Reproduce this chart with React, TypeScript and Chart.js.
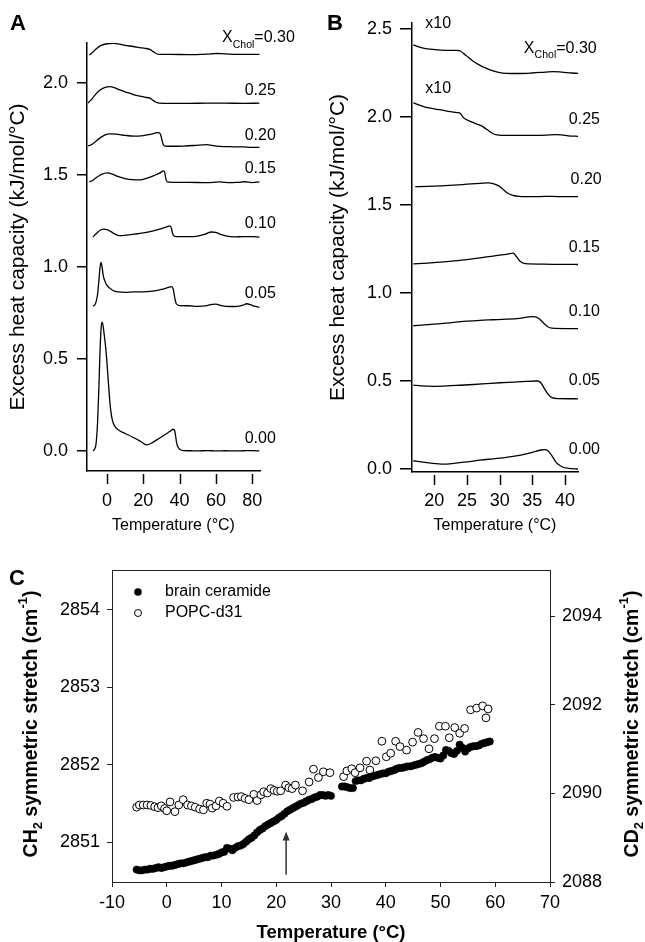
import React, { useEffect, useRef } from "react";
import { Chart, registerables } from "chart.js";
Chart.register(...registerables);

const FONT = "'Liberation Sans', Arial, Helvetica, sans-serif";

// ---------------- Panel A : DSC, full temperature range ----------------
const A_X_TICKS = [0, 20, 40, 60, 80];
const A_Y_TICKS = [0, 0.5, 1.0, 1.5, 2.0];

const A_T_000 = [-7.7, -6.8, -6, -5.2, -4.5, -3.8, -3.2, -2.6, -1.5, -0.5, 0, 0.8, 1.65, 2.6, 3.5, 5, 7, 10, 14, 18, 22, 25, 29, 33, 35, 36.5, 37.3, 38.4, 39.2, 40.2, 42, 46, 50, 55, 60, 65, 70, 75, 80, 84];
const A_CP_000 = [0, 0.01, 0.04, 0.15, 0.33, 0.55, 0.67, 0.7, 0.63, 0.54, 0.48, 0.37, 0.26, 0.185, 0.15, 0.125, 0.11, 0.095, 0.076, 0.055, 0.033, 0.045, 0.07, 0.095, 0.108, 0.118, 0.11, 0.043, 0.02, 0.008, 0.002, 0.001, 0, 0.002, 0, 0.001, 0, 0.001, 0.002, 0];

const A_T_005 = [-7.7, -6.8, -6, -5.2, -4.5, -3.9, -3.3, -2.7, -2, -1, 0, 1.5, 3.3, 6, 10, 15, 20, 25, 30, 33, 35.5, 36.5, 37.3, 38.2, 40, 45, 50, 55, 58, 60, 63, 68, 72, 75, 77, 79, 81, 84];
const A_CP_005 = [0.788, 0.792, 0.81, 0.85, 0.92, 0.99, 1.025, 1.0, 0.95, 0.92, 0.9, 0.885, 0.872, 0.864, 0.862, 0.864, 0.864, 0.868, 0.878, 0.886, 0.893, 0.88, 0.835, 0.8, 0.79, 0.789, 0.786, 0.79, 0.797, 0.798, 0.79, 0.785, 0.786, 0.792, 0.8, 0.795, 0.787, 0.782];

const A_T_010 = [-7.7, -6, -4, -2, 0, 2, 4.5, 7, 10, 15, 20, 25, 30, 33, 34.7, 35.5, 36.2, 37, 40, 45, 50, 54, 57.6, 60, 63, 66, 70, 75, 80, 84];
const A_CP_010 = [1.163, 1.18, 1.198, 1.206, 1.203, 1.193, 1.178, 1.17, 1.172, 1.178, 1.185, 1.195, 1.208, 1.218, 1.223, 1.21, 1.18, 1.168, 1.165, 1.165, 1.168, 1.178, 1.19, 1.188, 1.175, 1.167, 1.163, 1.165, 1.165, 1.162];

const A_T_015 = [-9.7, -8, -6, -3, 0, 3, 6, 10, 14, 18, 22, 26, 29, 31.2, 31.8, 32.4, 33.2, 36, 45, 55, 62, 68, 72, 76, 80, 84];
const A_CP_015 = [1.462, 1.47, 1.485, 1.503, 1.511, 1.505, 1.492, 1.48, 1.474, 1.473, 1.482, 1.497, 1.51, 1.522, 1.515, 1.48, 1.462, 1.46, 1.46, 1.458, 1.462, 1.458, 1.46, 1.463, 1.458, 1.462];

const A_T_020 = [-10.5, -9, -7, -4, -1, 1.7, 5, 10, 15, 20, 24, 27, 28.5, 29.5, 30.3, 31, 32, 36, 42, 48, 55, 58, 62, 70, 75, 80, 84];
const A_CP_020 = [1.658, 1.662, 1.675, 1.7, 1.718, 1.723, 1.722, 1.715, 1.711, 1.714, 1.72, 1.728, 1.73, 1.72, 1.69, 1.665, 1.657, 1.656, 1.657, 1.66, 1.665, 1.66, 1.655, 1.653, 1.652, 1.65, 1.65];

const A_T_025 = [-10.5, -9, -7, -4, -1, 1.7, 4, 7, 10, 14.5, 18, 21, 23.6, 25.5, 27, 29, 35, 45, 55, 65, 75, 84];
const A_CP_025 = [1.891, 1.905, 1.93, 1.96, 1.976, 1.98, 1.975, 1.962, 1.952, 1.937, 1.928, 1.922, 1.917, 1.905, 1.895, 1.89, 1.889, 1.889, 1.89, 1.89, 1.889, 1.89];

const A_T_030 = [-9.7, -8, -6, -3, 0, 3.3, 6, 10, 14.5, 18, 21, 23.6, 25.5, 27, 29, 35, 45, 55, 60, 65, 75, 84];
const A_CP_030 = [2.152, 2.165, 2.185, 2.205, 2.213, 2.215, 2.212, 2.204, 2.198, 2.192, 2.188, 2.182, 2.17, 2.16, 2.155, 2.155, 2.154, 2.157, 2.16, 2.158, 2.155, 2.155];

const A_CURVES = [
  { t: A_T_000, v: A_CP_000 },
  { t: A_T_005, v: A_CP_005 },
  { t: A_T_010, v: A_CP_010 },
  { t: A_T_015, v: A_CP_015 },
  { t: A_T_020, v: A_CP_020 },
  { t: A_T_025, v: A_CP_025 },
  { t: A_T_030, v: A_CP_030 },
];
const A_LABEL_TEXT = ["0.30", "0.25", "0.20", "0.15", "0.10", "0.05", "0.00"];
// label anchors (data units)
const A_LABEL_T = [103.5, 93, 93, 93, 93, 93, 93];
const A_LABEL_V = [2.22, 1.935, 1.69, 1.513, 1.214, 0.83, 0.042];

// ---------------- Panel B : DSC, 17-42 °C ----------------
const B_X_TICKS = [20, 25, 30, 35, 40];
const B_Y_TICKS = [0, 0.5, 1.0, 1.5, 2.0, 2.5];

const B_T_000 = [16.8, 18, 19.5, 21.4, 23, 25, 27, 29, 31, 33, 35, 36.3, 37, 37.5, 38, 38.5, 39, 39.7, 40.5, 42];
const B_CP_000 = [0.047, 0.04, 0.033, 0.028, 0.032, 0.04, 0.05, 0.058, 0.066, 0.078, 0.095, 0.108, 0.11, 0.1, 0.075, 0.045, 0.025, 0.01, 0.004, 0.0];

const B_T_005 = [16.8, 18, 20, 22, 24, 26, 28, 30, 32, 34, 35.8, 36.3, 36.8, 37.4, 38, 39, 42];
const B_CP_005 = [0.477, 0.472, 0.47, 0.472, 0.476, 0.48, 0.485, 0.49, 0.494, 0.498, 0.5, 0.49, 0.46, 0.425, 0.405, 0.4, 0.399];

const B_T_010 = [16.8, 19, 21, 23, 25, 27, 29, 31, 33, 34.5, 35.3, 36, 36.7, 37.3, 38, 40, 42];
const B_CP_010 = [0.814, 0.82, 0.826, 0.833, 0.84, 0.845, 0.848, 0.851, 0.856, 0.864, 0.866, 0.855, 0.83, 0.81, 0.8, 0.798, 0.798];

const B_T_015 = [16.8, 19, 21, 23, 25, 27, 29, 31, 32.1, 32.5, 33, 33.6, 34.5, 36, 38, 40, 42];
const B_CP_015 = [1.165, 1.17, 1.175, 1.182, 1.19, 1.2, 1.21, 1.22, 1.226, 1.21, 1.185, 1.17, 1.165, 1.164, 1.163, 1.163, 1.162];

const B_T_020 = [17.1, 19, 21, 23, 25, 27, 28.3, 29, 29.8, 30.5, 31.2, 32, 33, 35, 37, 39, 42];
const B_CP_020 = [1.604, 1.606, 1.609, 1.613, 1.618, 1.623, 1.626, 1.622, 1.61, 1.59, 1.568, 1.555, 1.549, 1.547, 1.549, 1.548, 1.548];

const B_T_025 = [16.8, 17.5, 18.5, 19.4, 21, 22.5, 23.5, 24, 24.5, 25.5, 26.5, 27.3, 28, 29, 29.6, 31, 33, 35, 37, 38.5, 39.5, 40.5, 42];
const B_CP_025 = [2.081, 2.07, 2.058, 2.05, 2.04, 2.03, 2.025, 2.02, 1.995, 1.975, 1.96, 1.948, 1.93, 1.905, 1.898, 1.895, 1.896, 1.895, 1.897, 1.9, 1.898, 1.893, 1.89];

const B_T_030 = [16.8, 17.5, 18.5, 19.4, 21, 22.5, 23.5, 24, 24.5, 25.2, 26, 27, 28, 29, 30, 31, 33, 35, 37, 38.2, 39.5, 41, 42];
const B_CP_030 = [2.41, 2.4, 2.39, 2.385, 2.38, 2.378, 2.378, 2.375, 2.36, 2.34, 2.315, 2.293, 2.276, 2.262, 2.252, 2.248, 2.247, 2.25, 2.255, 2.258, 2.255, 2.25, 2.248];

const B_CURVES = [
  { t: B_T_000, v: B_CP_000 },
  { t: B_T_005, v: B_CP_005 },
  { t: B_T_010, v: B_CP_010 },
  { t: B_T_015, v: B_CP_015 },
  { t: B_T_020, v: B_CP_020 },
  { t: B_T_025, v: B_CP_025 },
  { t: B_T_030, v: B_CP_030 },
];
const B_LABEL_TEXT = ["0.30", "0.25", "0.20", "0.15", "0.10", "0.05", "0.00"];
const B_LABEL_T = [44.84, 45.34, 45.6, 45.34, 45.34, 45.34, 45.34];
const B_LABEL_V = [2.362, 1.96, 1.618, 1.235, 0.869, 0.477, 0.085];
const B_SCALE_TEXT = "x10";
const B_SCALE_T = [18.63, 18.63];
const B_SCALE_V = [2.504, 2.135];

// ---------------- Panel C : FTIR ----------------
const C_X_TICKS = [-10, 0, 10, 20, 30, 40, 50, 60, 70];
const C_Y_TICKS = [2851, 2852, 2853, 2854];
const C_Y2_TICKS = [2088, 2090, 2092, 2094];

const CER_TEMP = [
  -5.5, -5, -4.5, -4, -3.5, -3, -2.5, -2, -1.5, -1, -0.5, 0, 0.5, 1, 1.5, 2, 2.5, 3, 3.5, 4, 4.5, 5, 5.5, 6, 6.5, 7, 7.5, 8, 8.5, 9, 9.5, 10, 10.5, 11, 11.5, 12, 12.5, 13, 13.5, 14, 14.5, 15, 15.5, 16, 16.5, 17, 17.5, 18, 18.5, 19, 19.5, 20, 20.5, 21, 21.5, 22, 22.5, 23, 23.5, 24, 24.5, 25, 25.5, 26, 26.5, 27, 27.5, 28, 28.5, 29, 29.5, 30,
  32, 32.5, 33, 33.5, 34, 34.5, 35, 35.5, 36, 36.5, 37, 37.5, 38, 38.5, 39, 39.5, 40, 40.5, 41, 41.5, 42, 42.5, 43, 43.5, 44, 44.5, 45, 45.5, 46, 46.5, 47, 47.5, 48, 48.5, 49, 49.5, 50, 50.5, 51, 51.5, 52, 52.5, 53, 53.5, 54, 54.5, 55, 55.5, 56, 56.5, 57, 57.5, 58, 58.5, 59,
];
const CER_CH2 = [
  2850.65, 2850.64, 2850.64, 2850.65, 2850.65, 2850.66, 2850.66, 2850.67, 2850.68, 2850.67,
  2850.68, 2850.69, 2850.7, 2850.7, 2850.71, 2850.72, 2850.73, 2850.73, 2850.74, 2850.75,
  2850.76, 2850.77, 2850.78, 2850.79, 2850.8, 2850.81, 2850.81, 2850.83, 2850.83, 2850.84,
  2850.85, 2850.87, 2850.88, 2850.93, 2850.92, 2850.9, 2850.93, 2850.95, 2850.96, 2850.98,
  2851.01, 2851.04, 2851.06, 2851.09, 2851.13, 2851.16, 2851.18, 2851.21, 2851.23, 2851.25,
  2851.27, 2851.29, 2851.32, 2851.34, 2851.37, 2851.4, 2851.42, 2851.44, 2851.46, 2851.48,
  2851.5, 2851.51, 2851.53, 2851.55, 2851.56, 2851.58, 2851.59, 2851.61, 2851.61, 2851.6,
  2851.61, 2851.6,
  2851.72, 2851.72, 2851.71, 2851.7, 2851.7, 2851.79, 2851.8, 2851.8, 2851.82, 2851.83,
  2851.83, 2851.85, 2851.86, 2851.87, 2851.88, 2851.89, 2851.89, 2851.91, 2851.92, 2851.93,
  2851.95, 2851.96, 2851.96, 2851.97, 2851.98, 2851.98, 2851.99, 2852.0, 2852.01, 2852.02,
  2852.04, 2852.06, 2852.07, 2852.09, 2852.1, 2852.09, 2852.08, 2852.12, 2852.19, 2852.18,
  2852.15, 2852.14, 2852.18, 2852.26, 2852.22, 2852.17, 2852.21, 2852.23, 2852.24, 2852.24,
  2852.25, 2852.27, 2852.28, 2852.29, 2852.3,
];

const POPC_TEMP = [
  -5.5, -5, -4.3, -3.6, -2.9, -2.2, -1.6, -1, -0.4, 0, 0.6, 1.5, 2.2, 3, 3.8, 4.5, 5.2, 6, 6.7, 7.3, 7.9, 8.3, 9, 9.6, 10.3, 11, 12.2, 13, 13.6, 14.3, 15, 15.9, 16.5, 17.2, 17.7, 18.4, 19, 19.6, 20.2, 20.8, 21.7, 22.3, 22.9, 23.5, 24.8, 26, 26.8, 27.7, 28.6, 29.8,
  32.3, 32.9, 33.8, 34.4, 35.3, 36.5, 37.1, 38.2, 39.3, 40.1, 40.9, 41.8, 42.6, 43.8, 44.9, 45.9, 46.9, 47.9, 48.9, 49.8, 50.9, 51.6, 52.6, 53.5, 54.4, 55.5, 56.6, 57.7, 58.3, 58.7,
];
const POPC_CD2 = [
  2089.69, 2089.74, 2089.74, 2089.74, 2089.73, 2089.7, 2089.68, 2089.72, 2089.66, 2089.61,
  2089.81, 2089.59, 2089.74, 2089.86, 2089.74, 2089.72, 2089.69, 2089.65, 2089.63, 2089.78,
  2089.76, 2089.67, 2089.72, 2089.83, 2089.78, 2089.71, 2089.91, 2089.92, 2089.93, 2089.89,
  2089.86, 2089.98, 2089.84, 2089.97, 2090.04, 2090.01, 2090.11, 2090.07, 2090.05, 2090.06,
  2090.19, 2090.13, 2090.11, 2090.19, 2090.06, 2090.26, 2090.55, 2090.36, 2090.49, 2090.47,
  2090.38, 2090.51, 2090.56, 2090.47, 2090.58, 2090.73, 2090.53, 2090.74, 2091.18, 2090.83,
  2090.91, 2091.18, 2091.06, 2090.98, 2091.16, 2091.38, 2091.24, 2091.01, 2091.24, 2091.52,
  2091.52, 2091.26, 2091.49, 2091.36, 2091.47, 2091.89, 2091.93, 2091.98, 2091.71, 2091.91,
];
const C_SERIES = ["brain ceramide", "POPC-d31"];
const ARROW_T = 21.8;
const ARROW_FROM = 2850.585;
const ARROW_TO = 2851.14;

// ---------------- helpers ----------------
type Seg = { t: string; s?: "sub" | "sup" };
type RichOpts = { bold?: boolean; align?: "left" | "right" | "center"; baseline?: CanvasTextBaseline; rotate?: boolean };

function drawRich(ctx: CanvasRenderingContext2D, segs: Seg[], x: number, y: number, size: number, o: RichOpts = {}) {
  ctx.save();
  ctx.translate(x, y);
  if (o.rotate) ctx.rotate(-Math.PI / 2);
  ctx.fillStyle = "#000";
  ctx.textBaseline = o.baseline || "alphabetic";
  ctx.textAlign = "left";
  const parts = segs.map((sg) => {
    const sz = sg.s ? size * 0.66 : size;
    const font = `${o.bold ? "bold " : ""}${sz}px ${FONT}`;
    ctx.font = font;
    const w = ctx.measureText(sg.t).width;
    const dy = sg.s === "sub" ? size * 0.32 : sg.s === "sup" ? -size * 0.42 : 0;
    return { t: sg.t, font, w, dy };
  });
  const total = parts.reduce((a, p) => a + p.w, 0);
  let cx = o.align === "right" ? -total : o.align === "center" ? -total / 2 : 0;
  for (const p of parts) {
    ctx.font = p.font;
    ctx.fillText(p.t, cx, p.dy);
    cx += p.w;
  }
  ctx.restore();
}

const xCholSegs = (val: string): Seg[] => [{ t: "X" }, { t: "Chol", s: "sub" }, { t: "=" + val }];

type DscSpec = {
  curves: { t: number[]; v: number[] }[];
  xTicks: number[];
  yTicks: number[];
  xMin: number; xMax: number; yMin: number; yMax: number;
  pad: { left: number; top: number; right: number; bottom: number };
  yWidth: number; xHeight: number;
  yTickLen: number; yTickPad: number; xTickPad: number;
  labels: { segs: Seg[]; t: number; v: number; align: "left" | "right" }[];
  yTitleX: number; xTitleY: number;
  letter: string; letterX: number;
};

function dscConfig(sp: DscSpec): any {
  const plugin = {
    id: "dsc_" + sp.letter,
    afterDraw(chart: any) {
      const { ctx, chartArea: ca, scales } = chart;
      const x = scales.x, y = scales.y;
      ctx.save();
      ctx.strokeStyle = "#000";
      ctx.lineWidth = 1.5;
      for (const v of sp.xTicks) {
        const px = Math.round(x.getPixelForValue(v)) + 0.5;
        ctx.beginPath();
        ctx.moveTo(px, ca.bottom + 3);
        ctx.lineTo(px, ca.bottom + 13);
        ctx.stroke();
      }
      ctx.restore();
      for (const l of sp.labels) {
        drawRich(ctx, l.segs, x.getPixelForValue(l.t), y.getPixelForValue(l.v), 16, { align: l.align });
      }
      drawRich(ctx, [{ t: "Excess heat capacity (kJ/mol/°C)" }], sp.yTitleX, (ca.top + ca.bottom) / 2, 21, { align: "center", baseline: "middle", rotate: true });
      drawRich(ctx, [{ t: "Temperature (°C)" }], (ca.left + ca.right) / 2, sp.xTitleY, 16, { align: "center", baseline: "middle" });
      drawRich(ctx, [{ t: sp.letter }], sp.letterX, 30, 22, { bold: true });
    },
  };
  return {
    type: "line",
    data: {
      datasets: sp.curves.map((c) => ({
        data: c.t.map((t, i) => ({ x: t, y: c.v[i] })),
        borderColor: "#000",
        borderWidth: 1.3,
        pointRadius: 0,
        fill: false,
        cubicInterpolationMode: "monotone",
      })),
    },
    options: {
      animation: false,
      responsive: false,
      devicePixelRatio: 1,
      layout: { padding: sp.pad },
      plugins: { legend: { display: false }, tooltip: { enabled: false } },
      scales: {
        x: {
          type: "linear",
          min: sp.xMin,
          max: sp.xMax,
          afterBuildTicks: (s: any) => { s.ticks = sp.xTicks.map((v) => ({ value: v })); },
          afterFit: (s: any) => { s.height = sp.xHeight; },
          grid: { display: false, drawTicks: false },
          border: { display: true, color: "#000", width: 1.5 },
          ticks: { autoSkip: false, maxRotation: 0, minRotation: 0, padding: sp.xTickPad, color: "#000", font: { size: 18, family: FONT }, callback: (v: any) => String(v) },
        },
        y: {
          type: "linear",
          min: sp.yMin,
          max: sp.yMax,
          afterBuildTicks: (s: any) => { s.ticks = sp.yTicks.map((v) => ({ value: v })); },
          afterFit: (s: any) => { s.width = sp.yWidth; },
          grid: { display: true, drawOnChartArea: false, drawTicks: true, tickLength: sp.yTickLen, color: "#000", lineWidth: 1.5 },
          border: { display: true, color: "#000", width: 1.5 },
          ticks: { autoSkip: false, padding: sp.yTickPad, color: "#000", font: { size: 18, family: FONT }, callback: (v: any) => Number(v).toFixed(1) },
        },
      },
    },
    plugins: [plugin],
  };
}

function makeA() {
  const labels = A_LABEL_TEXT.map((txt, i) => ({
    segs: i === 0 ? xCholSegs(txt) : [{ t: txt } as Seg],
    t: A_LABEL_T[i],
    v: A_LABEL_V[i],
    align: "right" as const,
  }));
  return dscConfig({
    curves: A_CURVES, xTicks: A_X_TICKS, yTicks: A_Y_TICKS,
    xMin: -11, xMax: 84.3, yMin: -0.109, yMax: 2.217,
    pad: { left: 0, top: 43, right: 60, bottom: 0 },
    yWidth: 87, xHeight: 74, yTickLen: 10, yTickPad: 9, xTickPad: 19,
    labels, yTitleX: 18, xTitleY: 526, letter: "A", letterX: 10,
  });
}

function makeB() {
  const labels = B_LABEL_TEXT.map((txt, i) => ({
    segs: i === 0 ? xCholSegs(txt) : [{ t: txt } as Seg],
    t: B_LABEL_T[i],
    v: B_LABEL_V[i],
    align: "right" as const,
  }));
  B_SCALE_T.forEach((t, i) => labels.push({ segs: [{ t: B_SCALE_TEXT }], t, v: B_SCALE_V[i], align: "left" as any }));
  return dscConfig({
    curves: B_CURVES, xTicks: B_X_TICKS, yTicks: B_Y_TICKS,
    xMin: 16.6, xMax: 41.98, yMin: -0.017, yMax: 2.534,
    pad: { left: 0, top: 23, right: 67, bottom: 0 },
    yWidth: 92, xHeight: 73, yTickLen: 12, yTickPad: 8, xTickPad: 18,
    labels, yTitleX: 18, xTitleY: 526, letter: "B", letterX: 7,
  });
}

function makeC(): any {
  const plugin = {
    id: "ftir",
    afterDraw(chart: any) {
      const { ctx, chartArea: ca, scales } = chart;
      const x = scales.x, y = scales.y;
      ctx.save();
      ctx.strokeStyle = "#222";
      ctx.lineWidth = 1;
      const ty = Math.round(ca.top) + 0.5;
      ctx.beginPath();
      ctx.moveTo(ca.left, ty);
      ctx.lineTo(ca.right, ty);
      ctx.stroke();
      // arrow
      const ax = x.getPixelForValue(ARROW_T);
      const y0 = y.getPixelForValue(ARROW_FROM);
      const y1 = y.getPixelForValue(ARROW_TO);
      ctx.strokeStyle = "#333";
      ctx.fillStyle = "#333";
      ctx.lineWidth = 1.5;
      ctx.beginPath();
      ctx.moveTo(ax, y0);
      ctx.lineTo(ax, y1 + 6);
      ctx.stroke();
      ctx.beginPath();
      ctx.moveTo(ax, y1);
      ctx.lineTo(ax - 3.5, y1 + 9);
      ctx.lineTo(ax + 3.5, y1 + 9);
      ctx.closePath();
      ctx.fill();
      // legend
      ctx.fillStyle = "#000";
      ctx.beginPath();
      ctx.arc(138, 47, 3.8, 0, Math.PI * 2);
      ctx.fill();
      ctx.strokeStyle = "#000";
      ctx.lineWidth = 1;
      ctx.beginPath();
      ctx.arc(138, 68, 3.5, 0, Math.PI * 2);
      ctx.stroke();
      ctx.restore();
      drawRich(ctx, [{ t: C_SERIES[0] }], 165, 47, 16, { baseline: "middle" });
      drawRich(ctx, [{ t: C_SERIES[1] }], 165, 68, 16, { baseline: "middle" });
      // titles
      drawRich(ctx, [{ t: "Temperature (°C)" }], (ca.left + ca.right) / 2, 388, 18.5, { bold: true, align: "center", baseline: "middle" });
      const cy = (ca.top + ca.bottom) / 2 - 2;
      drawRich(ctx, [{ t: "CH" }, { t: "2", s: "sub" }, { t: " symmetric stretch (cm" }, { t: "-1", s: "sup" }, { t: ")" }], 32, cy, 19.5, { bold: true, align: "center", baseline: "middle", rotate: true });
      drawRich(ctx, [{ t: "CD" }, { t: "2", s: "sub" }, { t: " symmetric stretch (cm" }, { t: "-1", s: "sup" }, { t: ")" }], 633, cy, 19.5, { bold: true, align: "center", baseline: "middle", rotate: true });
      drawRich(ctx, [{ t: "C" }], 9, 40, 22, { bold: true });
    },
  };
  const tickFont = { size: 18, family: FONT };
  return {
    type: "scatter",
    data: {
      datasets: [
        {
          label: C_SERIES[0],
          data: CER_TEMP.map((t, i) => ({ x: t, y: CER_CH2[i] })),
          yAxisID: "y",
          pointRadius: 3.7,
          pointBackgroundColor: "#000",
          pointBorderColor: "#000",
          pointBorderWidth: 0.5,
        },
        {
          label: C_SERIES[1],
          data: POPC_TEMP.map((t, i) => ({ x: t, y: POPC_CD2[i] })),
          yAxisID: "y2",
          pointRadius: 3.9,
          pointBackgroundColor: "#fff",
          pointBorderColor: "#000",
          pointBorderWidth: 1,
        },
      ],
    },
    options: {
      animation: false,
      responsive: false,
      devicePixelRatio: 1,
      layout: { padding: { left: 0, top: 25, right: 0, bottom: 0 } },
      plugins: { legend: { display: false }, tooltip: { enabled: false } },
      scales: {
        x: {
          type: "linear",
          min: -10,
          max: 70,
          afterBuildTicks: (s: any) => { s.ticks = C_X_TICKS.map((v) => ({ value: v })); },
          afterFit: (s: any) => { s.height = 60; },
          grid: { display: true, drawOnChartArea: false, tickLength: 5, color: "#222" },
          border: { display: true, color: "#222", width: 1 },
          ticks: { autoSkip: false, maxRotation: 0, padding: 5, color: "#000", font: tickFont, callback: (v: any) => String(v) },
        },
        y: {
          type: "linear",
          position: "left",
          min: 2850.49,
          max: 2854.51,
          afterBuildTicks: (s: any) => { s.ticks = C_Y_TICKS.map((v) => ({ value: v })); },
          afterFit: (s: any) => { s.width = 112; },
          grid: { display: true, drawOnChartArea: false, tickLength: 5, color: "#222" },
          border: { display: true, color: "#222", width: 1 },
          ticks: { autoSkip: false, padding: 7, color: "#000", font: tickFont, callback: (v: any) => String(v) },
        },
        y2: {
          type: "linear",
          position: "right",
          min: 2088,
          max: 2095.05,
          afterBuildTicks: (s: any) => { s.ticks = C_Y2_TICKS.map((v) => ({ value: v })); },
          afterFit: (s: any) => { s.width = 95; },
          grid: { display: true, drawOnChartArea: false, tickLength: 5, color: "#222" },
          border: { display: true, color: "#222", width: 1 },
          ticks: { autoSkip: false, padding: 7, color: "#000", font: tickFont, callback: (v: any) => String(v) },
        },
      },
    },
    plugins: [plugin],
  };
}

export default function App() {
  const refA = useRef<HTMLCanvasElement>(null);
  const refB = useRef<HTMLCanvasElement>(null);
  const refC = useRef<HTMLCanvasElement>(null);
  useEffect(() => {
    Chart.defaults.font.family = FONT;
    Chart.defaults.color = "#000";
    const charts = [
      new Chart(refA.current as HTMLCanvasElement, makeA()),
      new Chart(refB.current as HTMLCanvasElement, makeB()),
      new Chart(refC.current as HTMLCanvasElement, makeC()),
    ];
    return () => charts.forEach((c) => c.destroy());
  }, []);
  return (
    <div style={{ position: "absolute", left: 0, top: 0, width: 645, height: 942, background: "#fff" }}>
      <canvas ref={refA} width={320} height={545} style={{ position: "absolute", left: 0, top: 0, width: 320, height: 545 }} />
      <canvas ref={refB} width={325} height={545} style={{ position: "absolute", left: 320, top: 0, width: 325, height: 545 }} />
      <canvas ref={refC} width={645} height={397} style={{ position: "absolute", left: 0, top: 545, width: 645, height: 397 }} />
    </div>
  );
}
